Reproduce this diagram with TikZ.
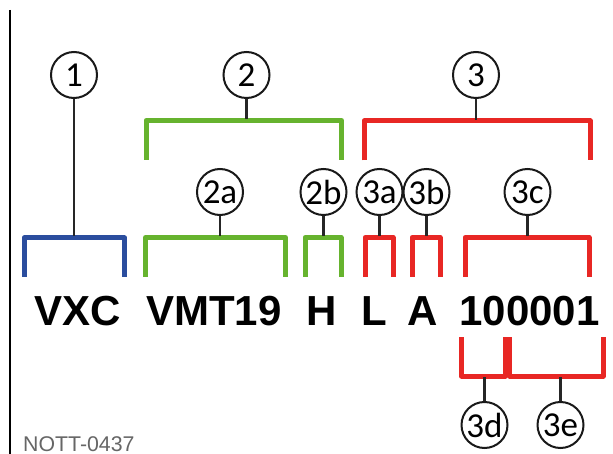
\documentclass[tikz,border=0pt]{standalone}
\usepackage{fontspec}
\setmainfont{Liberation Sans}
\newfontfamily\callfont{Carlito}
\tikzset{
  callout/.style={circle,draw=black!90,line width=2pt,fill=white,minimum size=46pt,inner sep=0pt,font=\callfont\fontsize{35}{35}\selectfont},
  stub/.style={draw=black!85,line width=2.2pt},
  brk/.style={line width=5pt,line join=round,line cap=butt},
  code/.style={anchor=base,inner sep=0pt,font=\bfseries\fontsize{42}{42}\selectfont},
  navy/.style={brk,draw=brkblue},
  grn/.style={brk,draw=brkgreen},
  rd/.style={brk,draw=brkred}
}
\definecolor{brkblue}{HTML}{2B4D9E}
\definecolor{brkgreen}{HTML}{66B32E}
\definecolor{brkred}{HTML}{E82724}
\begin{document}
\begin{tikzpicture}[x=1pt,y=-1pt]
\useasboundingbox (0,0) rectangle (613,454);
\fill[white] (0,0) rectangle (613,454);
\draw[black,line width=2pt] (10,10) -- (10,454);
% brackets
\draw[navy] (24,277) -- (24,238) -- (124.5,238) -- (124.5,277);
\draw[grn] (146,160) -- (146,120.5) -- (341.5,120.5) -- (341.5,160);
\draw[rd] (364,160.5) -- (364,121) -- (590,121) -- (590,160.5);
\draw[grn] (145.5,277) -- (145.5,237.5) -- (285.5,237.5) -- (285.5,277);
\draw[grn] (305,277) -- (305,237.5) -- (341,237.5) -- (341,277);
\draw[rd] (365,277) -- (365,237.5) -- (393,237.5) -- (393,277);
\draw[rd] (412,277) -- (412,237.5) -- (440,237.5) -- (440,277);
\draw[rd] (465,277) -- (465,237.5) -- (589,237.5) -- (589,277);
\draw[rd] (461.5,337) -- (461.5,376) -- (505,376) -- (505,337);
\draw[rd] (509.5,337) -- (509.5,376) -- (603,376) -- (603,337);
% bracket attachment points
\coordinate (b1) at (74,236);
\coordinate (b2) at (246.5,119);
\coordinate (b3) at (476,120);
\coordinate (b2a) at (220,236);
\coordinate (b2b) at (323.5,236);
\coordinate (b3a) at (379.5,236);
\coordinate (b3b) at (426.5,236);
\coordinate (b3c) at (527.5,236);
\coordinate (b3d) at (484.5,377);
\coordinate (b3e) at (560.5,377);
% callouts
\node[callout] (c1) at (74,75) {1};
\node[callout] (c2) at (246.5,75) {2};
\node[callout] (c3) at (476,75) {3};
\node[callout] (c2a) at (220,192) {2a};
\node[callout] (c2b) at (323.5,192) {2b};
\node[callout] (c3a) at (379.5,192) {3a};
\node[callout] (c3b) at (426.5,192) {3b};
\node[callout] (c3c) at (527.5,192) {3c};
\node[callout] (c3d) at (484.5,425) {3d};
\node[callout] (c3e) at (560.5,425) {3e};
% connectors
\foreach \n in {1,2,3,2a,2b,3a,3b,3c}{\draw[stub] (c\n.south) -- (b\n);}
\foreach \n in {3d,3e}{\draw[stub] (c\n.north) -- (b\n);}
% codes
\node[code] (t1) at (77.5,326) {VXC};
\node[code] (t2) at (214,326) {VMT19};
\node[code] (t3) at (321.5,326) {H};
\node[code] (t4) at (374,326) {L};
\node[code] (t5) at (422.5,326) {A};
\node[code] (t6) at (529.5,326) {100001};
\node[anchor=base west,inner sep=0pt,text=black!60,font=\fontsize{21.3}{21.3}\selectfont] (ref) at (23,451) {NOTT-0437};
\end{tikzpicture}
\end{document}
